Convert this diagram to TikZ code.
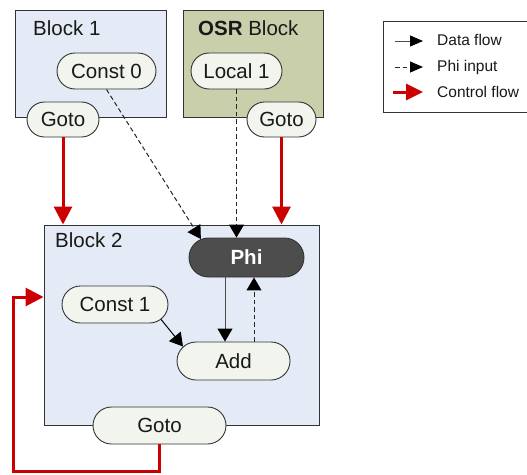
\documentclass[tikz,border=0pt]{standalone}
\usepackage{fontspec}
\setmainfont{Liberation Sans}
\usetikzlibrary{arrows.meta,shapes.misc}

\definecolor{blockblue}{HTML}{E5EBF6}
\definecolor{osrgreen}{HTML}{C8CFAA}
\definecolor{opfill}{HTML}{F2F4EE}
\definecolor{phifill}{HTML}{4D4D4D}
\definecolor{ctrlred}{HTML}{CC0000}
\definecolor{edgegray}{HTML}{333333}

\begin{document}
\begin{tikzpicture}[x=1pt,y=-1pt,
  block/.style={draw=edgegray, line width=1pt, rectangle, inner sep=0pt},
  op/.style={rounded rectangle, draw=edgegray, line width=0.9pt, fill=opfill,
    minimum height=36pt, inner sep=0pt, text=black!90,
    font=\fontsize{20.5}{24}\selectfont},
  lbl/.style={anchor=base west, inner sep=0pt, text=black!90,
    font=\fontsize{20.5}{24}\selectfont},
  legtext/.style={anchor=base west, inner sep=0pt, text=black!90,
    font=\fontsize{15.5}{18}\selectfont},
  data/.style={draw=black!70, line width=1pt,
    -{Triangle[length=13pt,width=15pt,fill=black,color=black]}},
  phiin/.style={data, draw=black!85, dash pattern=on 4.5pt off 3pt},
  ctrl/.style={draw=ctrlred, line width=3pt,
    -{Triangle[length=18pt,width=18pt]}},
  legtip/.style={-{Triangle[length=13pt,width=11pt,fill=black,color=black]}}
]
\clip (0,0) rectangle (527,474);
\fill[white] (0,0) rectangle (527,474);

% basic blocks
\node[block, fill=blockblue, minimum width=151pt, minimum height=107pt] (b1) at (90.5,63.5) {};
\node[block, fill=osrgreen, minimum width=140pt, minimum height=107pt] (osr) at (253,63.5) {};
\node[block, fill=blockblue, minimum width=275pt, minimum height=200pt] (b2) at (181.5,325) {};

\node[lbl] (b1l) at (33,35) {Block 1};
\node[lbl] (osrl) at (198,35) {\textbf{OSR} Block};
\node[lbl] (b2l) at (55,247) {Block 2};

% instructions
\node[op, minimum width=99pt] (c0) at (106.5,71) {Const 0};
\node[op, minimum width=91pt] (l1) at (236.5,71) {Local 1};
\node[op, minimum width=72pt, minimum height=35pt] (g1) at (63,119.5) {Goto};
\node[op, minimum width=69pt, minimum height=35pt] (g2) at (281.5,119.5) {Goto};
\node[op, minimum width=115pt, minimum height=39pt, fill=phifill, text=white,
  font=\fontsize{20.5}{24}\selectfont\bfseries] (phi) at (246.5,257.5) {Phi};
\node[op, minimum width=106pt, minimum height=37pt] (c1) at (115,304.5) {Const 1};
\node[op, minimum width=113pt, minimum height=38pt] (add) at (233.5,361) {Add};
\node[op, minimum width=133pt, minimum height=37pt] (g3) at (159.5,425.5) {Goto};

% phi inputs
\draw[phiin] (c0.south) -- (phi.158);
\draw[phiin] (l1.south) -- (l1.south |- phi.north);
\draw[phiin] ([xshift=7.5pt]phi.south |- add.north) -- ([xshift=7.5pt]phi.south);

% data flow
\draw[data] ([xshift=-21.5pt]phi.south) -- ([xshift=-21.5pt]phi.south |- add.north);
\draw[data, draw=black] (c1.-18) -- (add.164);

% control flow
\draw[ctrl] (g1.south) -- (g1.south |- b2.north);
\draw[ctrl] (g2.south) -- (g2.south |- b2.north);
\coordinate (loopbot) at (13.5,471);
\coordinate (looptop) at (13.5,297);
\draw[ctrl] (g3.south) |- (loopbot) -- (looptop) -- (looptop -| b2.west);

% legend
\node[draw=edgegray, line width=1pt, rectangle, minimum width=150pt,
  minimum height=91pt, inner sep=0pt] (leg) at (458,66.5) {};
\node[legtext] (ld) at (437,45.5) {Data flow};
\node[legtext] (lp) at (437,71) {Phi input};
\node[legtext] (lc) at (437,97) {Control flow};
\coordinate (lda) at (395,41);
\coordinate (ldb) at (423,41);
\coordinate (lpa) at (395,67);
\coordinate (lpb) at (423,67);
\coordinate (lca) at (393,92);
\coordinate (lcb) at (423,92);
\draw[data, legtip] (lda) -- (ldb);
\draw[phiin, legtip] (lpa) -- (lpb);
\draw[ctrl, -{Triangle[length=17pt,width=16pt]}] (lca) -- (lcb);
\end{tikzpicture}
\end{document}
